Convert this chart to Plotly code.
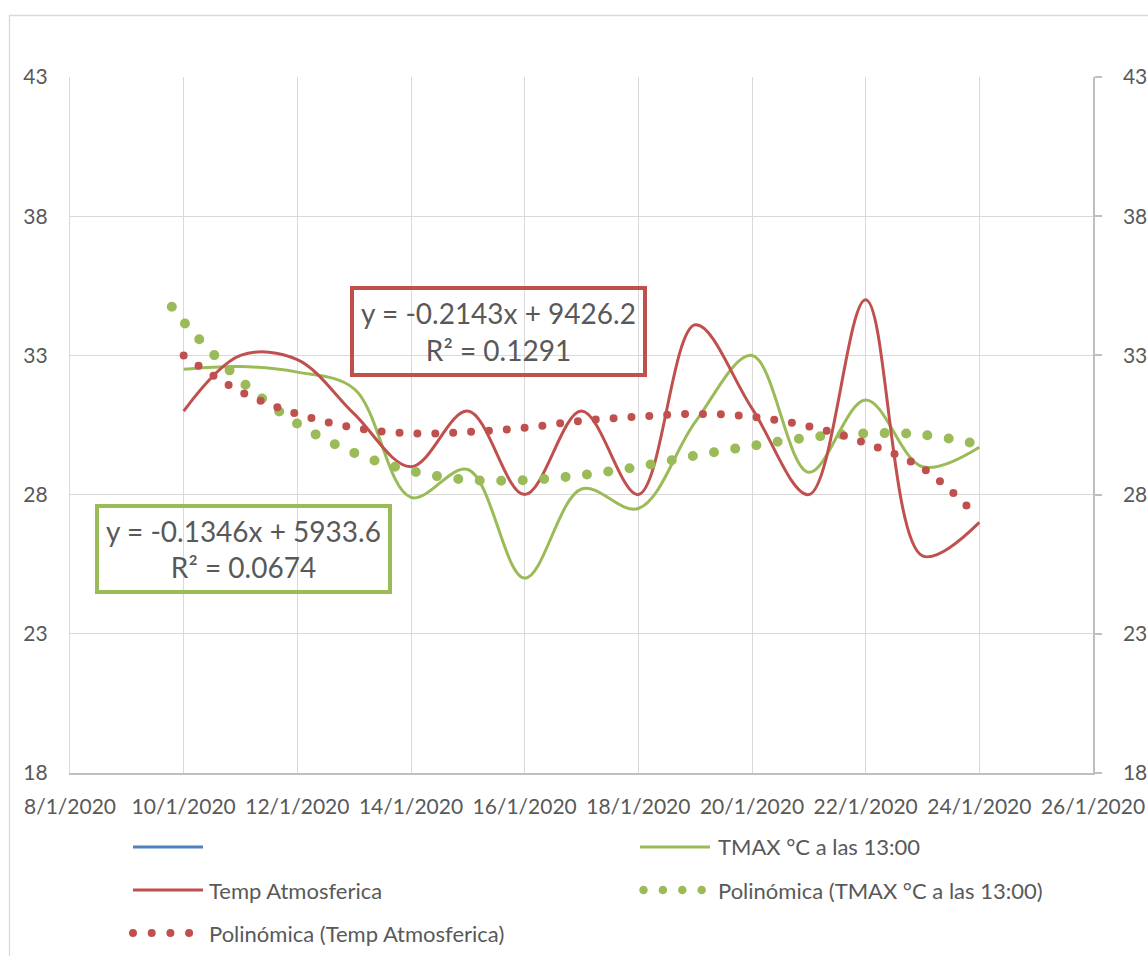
import plotly.graph_objects as go

# ---------------- data ----------------
dates = ["2020-01-10", "2020-01-11", "2020-01-12", "2020-01-13", "2020-01-14",
         "2020-01-15", "2020-01-16", "2020-01-17", "2020-01-18", "2020-01-19",
         "2020-01-20", "2020-01-21", "2020-01-22", "2020-01-23", "2020-01-24"]
temp_atm = [31.0, 33.0, 32.85, 30.9, 29.0, 31.0, 28.0, 31.0, 28.0, 34.1,
            31.1, 28.0, 35.0, 25.8, 27.0]
tmax_13 = [32.5, 32.6, 32.4, 31.8, 27.9, 28.9, 25.0, 28.2, 27.5, 30.6,
           33.0, 28.8, 31.4, 29.0, 29.7]

trend_atm_x = dates
trend_atm = [33.0, 31.7, 30.9, 30.4, 30.2, 30.25, 30.4, 30.65, 30.8, 30.9,
             30.8, 30.45, 29.85, 28.95, 27.15]
trend_tmax_x = ["2020-01-09 19:00"] + dates
trend_tmax = [34.75, 34.2, 32.1, 30.55, 29.5, 28.85, 28.53, 28.52, 28.7, 29.0,
              29.4, 29.75, 30.05, 30.2, 30.15, 29.8]

y_ticks = [18, 23, 28, 33, 38, 43]
eq_atm = "y = -0.2143x + 9426.2<br>R² = 0.1291"
eq_tmax = "y = -0.1346x + 5933.6<br>R² = 0.0674"
legend_names = ["", "TMAX °C a las 13:00", "Temp Atmosferica",
                "Polinómica (TMAX °C a las 13:00)", "Polinómica (Temp Atmosferica)"]

# ---------------- style ----------------
RED = "#C0504D"
GREEN = "#9BBB59"
BLUE = "#4F81BD"
TXT = "#595959"
GRID = "#D9D9D9"
AXL = "#BFBFBF"
FONT = "Lato"

W, H = 1148, 956
L, RPX, T, BPX = 70, 1093, 77, 773  # pixels of plot area


def px_x(px):
    return (px - L) / (RPX - L)


def px_y(py):
    return (BPX - py) / (BPX - T)


RED_DOT = "0px,17.9px"
GREEN_DOT = "0px,21.5px"

fig = go.Figure()

# empty first series (blue) kept for the legend
fig.add_trace(go.Scatter(x=[dates[0]], y=[None], name=legend_names[0], mode="lines",
                         line=dict(color=BLUE, width=3), showlegend=False, yaxis="y2"))
fig.add_trace(go.Scatter(x=dates, y=tmax_13, name=legend_names[1], mode="lines",
                         line=dict(color=GREEN, width=3, shape="spline", smoothing=1.0),
                         showlegend=False))
fig.add_trace(go.Scatter(x=dates, y=temp_atm, name=legend_names[2], mode="lines",
                         line=dict(color=RED, width=3, shape="spline", smoothing=1.0),
                         showlegend=False))
fig.add_trace(go.Scatter(x=trend_tmax_x, y=trend_tmax, name=legend_names[3], mode="lines",
                         line=dict(color=GREEN, width=10, dash=GREEN_DOT, shape="spline",
                                   smoothing=1.0),
                         showlegend=False))
fig.add_trace(go.Scatter(x=trend_atm_x, y=trend_atm, name=legend_names[4], mode="lines",
                         line=dict(color=RED, width=8, dash=RED_DOT, shape="spline",
                                   smoothing=1.0),
                         showlegend=False))

shapes = []
annotations = []

# chart-area border
shapes.append(dict(type="rect", xref="paper", yref="paper",
                   x0=px_x(9.5), x1=px_x(1170), y0=px_y(975), y1=px_y(15.5),
                   line=dict(color=GRID, width=1.3), layer="below"))

# trendline equation boxes
annotations.append(dict(xref="paper", yref="paper", x=px_x(498.5), y=px_y(331.5),
                        xanchor="center", yanchor="middle", showarrow=False,
                        text=eq_atm, align="center", width=289, height=83,
                        borderwidth=4, bordercolor=RED, borderpad=0,
                        font=dict(family=FONT, size=28, color=TXT)))
annotations.append(dict(xref="paper", yref="paper", x=px_x(243), y=px_y(548.5),
                        xanchor="center", yanchor="middle", showarrow=False,
                        text=eq_tmax, align="center", width=289, height=82,
                        borderwidth=4, bordercolor=GREEN, borderpad=0,
                        font=dict(family=FONT, size=28, color=TXT)))

# legend (two columns, three rows)
leg = [
    (133, 203, 847, BLUE, 3, "solid", 207, legend_names[0]),
    (640, 710, 847, GREEN, 3, "solid", 716, legend_names[1]),
    (133, 203, 890, RED, 3, "solid", 207, legend_names[2]),
    (643.5, 703, 890, GREEN, 8.5, "0px,19.4px", 716, legend_names[3]),
    (133, 191, 933, RED, 8, "0px,18.7px", 207, legend_names[4]),
]
for x0, x1, yy, col, wd, ds, tx, name in leg:
    shapes.append(dict(type="line", xref="paper", yref="paper",
                       x0=px_x(x0), x1=px_x(x1), y0=px_y(yy), y1=px_y(yy),
                       line=dict(color=col, width=wd, dash=ds)))
    if name:
        annotations.append(dict(xref="paper", yref="paper", x=px_x(tx), y=px_y(yy),
                                xanchor="left", yanchor="middle", showarrow=False,
                                text=name, font=dict(family=FONT, size=22, color=TXT)))

fig.update_layout(
    template="none",
    width=W, height=H,
    margin=dict(l=L, r=W - RPX, t=T, b=H - BPX, pad=0, autoexpand=False),
    paper_bgcolor="white", plot_bgcolor="white",
    font=dict(family=FONT, size=21, color=TXT),
    showlegend=False,
    xaxis=dict(type="date", range=["2020-01-08", "2020-01-26"], automargin=False,
               tick0="2020-01-08", dtick=2 * 86400000, tickformat="%-d/%-m/%Y",
               showgrid=True, gridcolor=GRID, gridwidth=1.3,
               showline=True, linecolor=AXL, linewidth=1.5, mirror=False,
               ticks="", ticklabelstandoff=14, zeroline=False,
               tickfont=dict(family=FONT, size=21, color=TXT)),
    yaxis=dict(range=[18, 43], tickvals=y_ticks, showgrid=True, gridcolor=GRID,
               automargin=False,
               gridwidth=1.3, showline=True, linecolor=GRID, linewidth=1.3,
               ticks="", ticklabelstandoff=17, zeroline=False,
               tickfont=dict(family=FONT, size=21, color=TXT)),
    yaxis2=dict(range=[18, 43], tickvals=y_ticks, overlaying="y", side="right",
                automargin=False,
                showgrid=False, showline=True, linecolor=AXL, linewidth=1.5,
                ticks="outside", ticklen=7, tickcolor=AXL, tickwidth=1.5,
                ticklabelstandoff=17, zeroline=False,
                tickfont=dict(family=FONT, size=21, color=TXT)),
    shapes=shapes,
    annotations=annotations,
)

post = """
document.body.style.margin = '0';
document.body.style.overflow = 'hidden';
var gd = document.getElementById('{plot_id}');
function roundDots(){
  gd.querySelectorAll('path').forEach(function(p){
    var d = p.style.strokeDasharray || p.getAttribute('stroke-dasharray') || '';
    if (/^\\s*0(px)?\\s*,/.test(d)) { p.style.strokeLinecap = 'round'; }
  });
}
roundDots();
gd.on('plotly_afterplot', roundDots);
"""

fig.write_html("out.html", post_script=post, config={"displayModeBar": False})
